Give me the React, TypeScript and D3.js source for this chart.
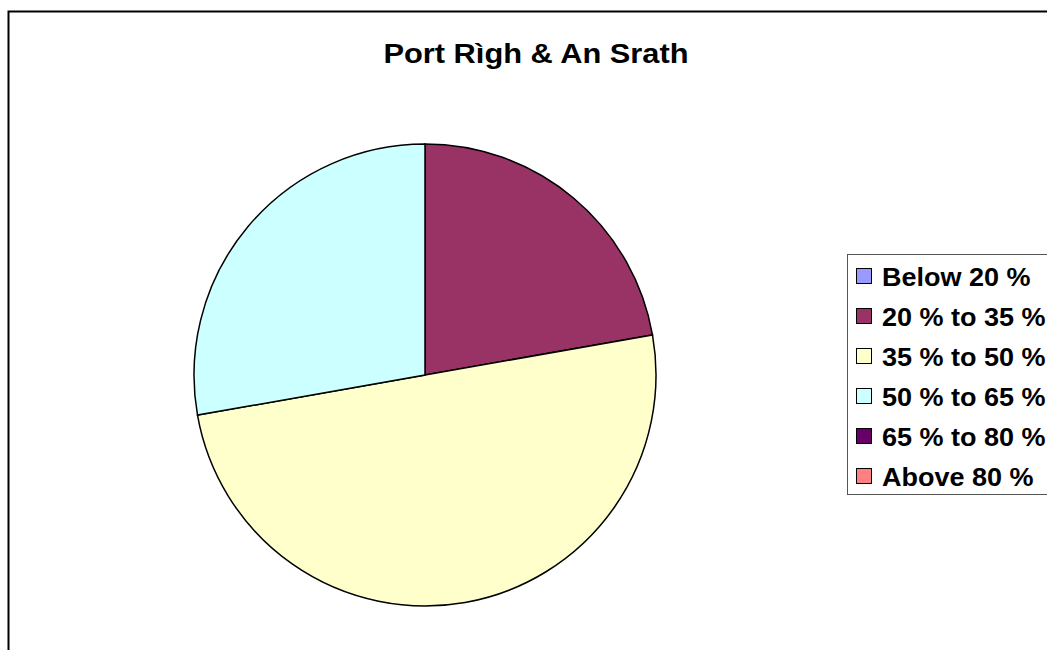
import React from "react";
import * as d3 from "d3";

const categories = ["Below 20 %", "20 % to 35 %", "35 % to 50 %", "50 % to 65 %", "65 % to 80 %", "Above 80 %"];
const values = [0, 4, 9, 5, 0, 0];
const colors = ["#9999FF", "#993366", "#FFFFCC", "#CCFFFF", "#660066", "#FF8080"];
const title = "Port Rìgh & An Srath";

export default function App() {
  const W = 1047, H = 650;
  const cx = 425, cy = 375, r = 231;
  const pie = d3.pie<number>().sort(null).value((d) => d)(values);
  const arc = d3.arc<d3.PieArcDatum<number>>().innerRadius(0).outerRadius(r);
  const legendX = 847, legendY = 254, rowH = 40;
  return (
    <svg width={W} height={H} style={{ position: "absolute", left: 0, top: 0, background: "#fff" }}
      fontFamily="'Liberation Sans', Arial, sans-serif">
      <rect x={8.5} y={11.5} width={1100} height={700} fill="#fff" stroke="#000" strokeWidth={2} />
      <text transform="translate(536,63) scale(1.1,1)" textAnchor="middle" fontWeight="bold" fontSize={28}>{title}</text>
      <g transform={`translate(${cx},${cy})`}>
        {pie.filter((p) => p.value > 0).map((p, i) => (
          <path key={i} d={arc(p) || ""} fill={colors[p.index]} stroke="#000" strokeWidth={1.5} />
        ))}
      </g>
      <rect x={legendX + 0.5} y={legendY + 0.5} width={300} height={240} fill="#fff" stroke="#555" strokeWidth={1} />
      {categories.map((c, i) => {
        const yc = 277 + i * rowH;
        return (
          <g key={c}>
            <rect x={856.5} y={yc - 8.5} width={15} height={15} fill={colors[i]} stroke="#000" strokeWidth={1} />
            <text transform={`translate(882,${yc + 9}) scale(1.08,1)`} fontWeight="bold" fontSize={25}>{c}</text>
          </g>
        );
      })}
    </svg>
  );
}
